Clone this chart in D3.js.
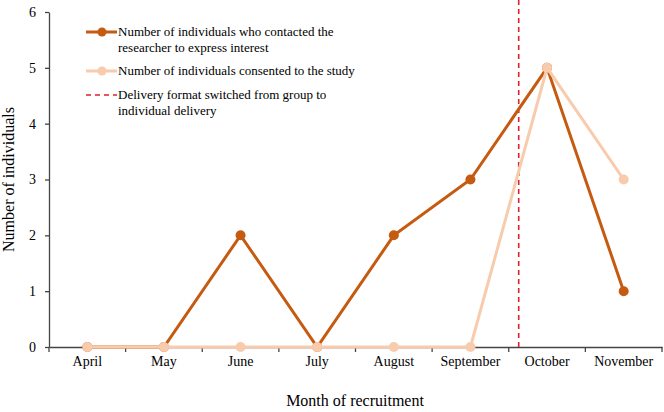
<!DOCTYPE html>
<html>
<head>
<meta charset="utf-8">
<script src="https://cdn.jsdelivr.net/npm/d3@7"></script>
<style>
  body { margin: 0; background: #fff; }
  text { font-family: "Liberation Serif", "Times New Roman", serif; fill: #000; }
</style>
</head>
<body>
<div id="chart"></div>
<script>
// size
var chart_width = 664;
var chart_height = 412;

// data
var months = ['April', 'May', 'June', 'July', 'August', 'September', 'October', 'November'];
var interested = [0, 0, 2, 0, 2, 3, 5, 1];
var consented = [0, 0, 0, 0, 0, 0, 5, 3];
var y_ticks = [0, 1, 2, 3, 4, 5, 6];
var switch_pos = 5.63; // between September and October
var legend_items = [
    ['Number of individuals who contacted the', 'researcher to express interest'],
    ['Number of individuals consented to the study'],
    ['Delivery format switched from group to', 'individual delivery']
];

var dark = '#c55a11';
var light = '#f8cbad';
var red = '#e0202e';

var margin = {left: 49, right: 2, top: 12, bottom: 65};

var svg = d3.select('#chart')
            .append('svg')
            .attr('width', chart_width)
            .attr('height', chart_height);

var x = d3.scaleBand()
          .domain(months)
          .range([margin.left, chart_width - margin.right]);

var y = d3.scaleLinear()
          .domain([0, 6])
          .range([chart_height - margin.bottom, margin.top]);

// position of a fractional month index
function xi(i){
    return x(months[0]) + x.bandwidth() / 2 + i * x.step();
}

// axes
var x_axis = svg.append('g')
    .attr('transform', 'translate(0,' + y(0) + ')')
    .call(d3.axisBottom(x).tickSizeInner(0).tickSizeOuter(0).tickPadding(9))
    .attr('font-family', 'Liberation Serif')
    .attr('font-size', 14);
x_axis.select('.domain').attr('stroke', '#444').attr('stroke-width', 1.3);

// band boundary ticks
x_axis.selectAll('.bt')
    .data(d3.range(months.length + 1))
    .enter()
    .append('line')
    .attr('x1', function(d){ return margin.left + d * x.step(); })
    .attr('x2', function(d){ return margin.left + d * x.step(); })
    .attr('y1', 0)
    .attr('y2', 5)
    .attr('stroke', '#444')
    .attr('stroke-width', 1.3);

var y_axis = svg.append('g')
    .attr('transform', 'translate(' + margin.left + ',0)')
    .call(d3.axisLeft(y).tickValues(y_ticks).tickFormat(d3.format('d'))
            .tickSizeInner(4).tickSizeOuter(0).tickPadding(9))
    .attr('font-family', 'Liberation Serif')
    .attr('font-size', 14);
y_axis.select('.domain').attr('stroke', '#444').attr('stroke-width', 1.3);
y_axis.selectAll('.tick line').attr('stroke', '#444').attr('stroke-width', 1.3);

// axis titles
svg.append('text')
   .attr('x', 355)
   .attr('y', 406)
   .attr('text-anchor', 'middle')
   .style('font-size', '16px')
   .text('Month of recruitment');

svg.append('text')
   .attr('transform', 'translate(14,' + (y(3)) + ') rotate(-90)')
   .attr('text-anchor', 'middle')
   .style('font-size', '16px')
   .text('Number of individuals');

// switch line
svg.append('line')
   .attr('x1', xi(switch_pos))
   .attr('x2', xi(switch_pos))
   .attr('y1', 0)
   .attr('y2', y(0))
   .attr('stroke', red)
   .attr('stroke-width', 1.6)
   .attr('stroke-dasharray', '5,4');

var line = d3.line()
    .x(function(d, i){ return xi(i); })
    .y(function(d){ return y(d); });

function draw_series(values, color){
    svg.append('path')
       .datum(values)
       .attr('d', line)
       .attr('fill', 'none')
       .attr('stroke', color)
       .attr('stroke-width', 3);
    svg.selectAll(null)
       .data(values)
       .enter()
       .append('circle')
       .attr('cx', function(d, i){ return xi(i); })
       .attr('cy', function(d){ return y(d); })
       .attr('r', 5)
       .attr('fill', color);
}

draw_series(interested, dark);
draw_series(consented, light);

// legend
var legend = svg.append('g');
var rows = [36, 75, 99];
var colors = [dark, light, red];
legend_items.forEach(function(item, i){
    var ly = rows[i] - 4;
    if (i < 2) {
        legend.append('line')
              .attr('x1', 86).attr('x2', 117)
              .attr('y1', ly).attr('y2', ly)
              .attr('stroke', colors[i]).attr('stroke-width', 3);
        legend.append('circle')
              .attr('cx', 102).attr('cy', ly).attr('r', 4.5)
              .attr('fill', colors[i]);
    } else {
        legend.append('line')
              .attr('x1', 86).attr('x2', 117)
              .attr('y1', ly).attr('y2', ly)
              .attr('stroke', colors[i]).attr('stroke-width', 1.6)
              .attr('stroke-dasharray', '5,4');
    }
    item.forEach(function(t, j){
        legend.append('text')
              .attr('x', 118)
              .attr('y', rows[i] + j * 16)
              .style('font-size', '13px')
              .text(t);
    });
});
</script>
</body>
</html>
